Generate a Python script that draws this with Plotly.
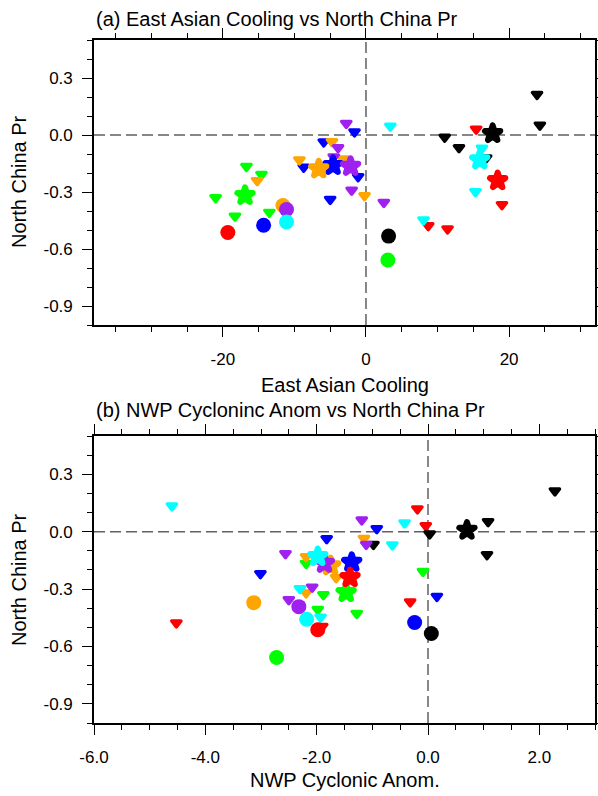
import plotly.graph_objects as go

# ---------------- data ----------------
groups = ["red", "orange", "green", "cyan", "blue", "purple", "black"]
group_colors = ["#FF0000", "#FFA500", "#00FF00", "#00FFFF", "#0000FF", "#A020F0", "#000000"]

# triangles (members): North China Pr, East Asian Cooling, NWP Cyclonic Anom.
tri_red_pr = [0.119, 0.031, -0.367, -0.477, -0.495]
tri_red_ea = [None, 15.4, 19.0, 8.7, 11.4]
tri_red_nwp = [-0.19, -0.04, -0.32, -4.52, -1.9]

tri_orange_pr = [-0.035, -0.131, -0.126, -0.240, -0.320]
tri_orange_ea = [-4.75, -9.3, -3.2, -15.2, -0.2]
tri_orange_nwp = [-1.15, -2.19, -2.05, -1.65, -2.19]

tri_green_pr = [-0.166, -0.208, -0.330, -0.427, -0.407]
tri_green_ea = [-16.7, -14.6, -21.0, -18.3, -13.5]
tri_green_nwp = [-2.19, -0.09, -1.88, -1.28, -1.98]

tri_cyan_pr = [0.135, 0.046, -0.069, -0.298, -0.447]
tri_cyan_ea = [None, 3.4, 16.2, 15.3, 8.05]
tri_cyan_nwp = [-4.60, -0.42, -0.64, -2.30, -1.93]

tri_blue_pr = [0.016, -0.037, -0.170, -0.220, -0.339]
tri_blue_ea = [-1.6, -5.9, -8.7, -1.1, -5.0]
tri_blue_nwp = [-0.92, -1.82, -1.40, -3.01, 0.16]

tri_purple_pr = [0.061, -0.067, -0.115, -0.290, -0.355]
tri_purple_ea = [-2.75, -3.9, -4.5, -2.0, 2.5]
tri_purple_nwp = [-1.19, -1.11, -2.56, -2.08, -2.50]

tri_black_pr = [0.213, 0.052, -0.012, -0.067, -0.121]
tri_black_ea = [23.9, 24.3, 11.0, 13.0, 16.8]
tri_black_nwp = [2.28, 1.08, 0.03, -0.98, 1.06]

# stars (one per group, order as groups)
star_pr = [-0.240, -0.178, -0.318, -0.130, -0.160, -0.165, 0.008]
star_ea = [18.4, -6.6, -16.9, 15.9, -4.6, -2.15, 17.7]
star_nwp = [-1.40, -1.75, -1.47, -1.98, -1.37, -1.86, 0.70]

# circles (one per group, order as groups)
circ_pr = [-0.513, -0.371, -0.658, -0.458, -0.475, -0.392, -0.532]
circ_ea = [-19.3, -11.6, 3.06, -11.1, -14.3, -11.1, 3.16]
circ_nwp = [-1.98, -3.13, -2.72, -2.18, -0.24, -2.32, 0.06]

# axes / ticks
ea_range = [-38, 32]
ea_ticks = [-20, 0, 20]
ea_ticktext = ["-20", "0", "20"]
nwp_range = [-6, 3]
nwp_ticks = [-6, -4, -2, 0, 2]
nwp_ticktext = ["-6.0", "-4.0", "-2.0", "0.0", "2.0"]
pr_range = [-1.0, 0.5]
pr_ticks = [-0.9, -0.6, -0.3, 0.0, 0.3]
pr_ticktext = ["-0.9", "-0.6", "-0.3", "0.0", "0.3"]

title_a = "(a) East Asian Cooling vs North China Pr"
title_b = "(b) NWP Cycloninc Anom vs North China Pr"
xlabel_a = "East Asian Cooling"
xlabel_b = "NWP Cyclonic Anom."
ylabel = "North China Pr"

tri_pr = {"red": tri_red_pr, "orange": tri_orange_pr, "green": tri_green_pr, "cyan": tri_cyan_pr,
          "blue": tri_blue_pr, "purple": tri_purple_pr, "black": tri_black_pr}
tri_ea = {"red": tri_red_ea, "orange": tri_orange_ea, "green": tri_green_ea, "cyan": tri_cyan_ea,
          "blue": tri_blue_ea, "purple": tri_purple_ea, "black": tri_black_ea}
tri_nwp = {"red": tri_red_nwp, "orange": tri_orange_nwp, "green": tri_green_nwp, "cyan": tri_cyan_nwp,
           "blue": tri_blue_nwp, "purple": tri_purple_nwp, "black": tri_black_nwp}

# drawing order of the groups (later ones on top)
draw_order = ["green", "blue", "red", "black", "orange", "purple", "cyan"]

# ---------------- figure ----------------
W, H = 598, 796
FONT = "Liberation Sans, Arial, Helvetica, sans-serif"
fig = go.Figure()
col_of = dict(zip(groups, group_colors))
idx_of = {g: i for i, g in enumerate(groups)}

panels = [("x", "y", tri_ea, star_ea, circ_ea), ("x2", "y2", tri_nwp, star_nwp, circ_nwp)]
for xa, ya, tx, sx, cx in panels:
    # triangles
    for g in draw_order:
        col = col_of[g]
        fig.add_trace(go.Scatter(x=tx[g], y=tri_pr[g], xaxis=xa, yaxis=ya, mode="markers",
                                 marker=dict(symbol="triangle-down", size=8, color=col,
                                             line=dict(color=col, width=3.4)),
                                 showlegend=False, hoverinfo="skip"))
    # circles
    for g in draw_order:
        i, col = idx_of[g], col_of[g]
        fig.add_trace(go.Scatter(x=[cx[i]], y=[circ_pr[i]], xaxis=xa, yaxis=ya, mode="markers",
                                 marker=dict(symbol="circle", size=15, color=col, line=dict(width=0)),
                                 showlegend=False, hoverinfo="skip"))
    # stars
    for g in draw_order:
        i, col = idx_of[g], col_of[g]
        fig.add_trace(go.Scatter(x=[sx[i]], y=[star_pr[i]], xaxis=xa, yaxis=ya, mode="markers",
                                 marker=dict(symbol="star", size=11.5, color=col,
                                             line=dict(color=col, width=6)),
                                 showlegend=False, hoverinfo="skip"))

xdom = [94 / W, 595 / W]
ydom_a = [1 - 325 / H, 1 - 40 / H]
ydom_b = [1 - 723 / H, 1 - 436 / H]

common = dict(showline=True, linecolor="black", linewidth=1.6, mirror="ticks",
              ticks="outside", ticklen=10, tickwidth=1.4, tickcolor="black",
              showgrid=False, zeroline=False, automargin=False,
              tickfont=dict(family=FONT, size=17, color="black"))

fig.update_layout(
    width=W, height=H, margin=dict(l=0, r=0, t=0, b=0, autoexpand=False),
    paper_bgcolor="white", plot_bgcolor="white",
    xaxis=dict(domain=xdom, anchor="y", range=ea_range, tickvals=ea_ticks, ticktext=ea_ticktext,
               minor=dict(dtick=5, tick0=0, ticks="outside", ticklen=5, tickwidth=1.2, tickcolor="black"),
               ticklabelstandoff=8, **common),
    yaxis=dict(domain=ydom_a, anchor="x", range=pr_range, tickvals=pr_ticks, ticktext=pr_ticktext,
               minor=dict(dtick=0.1, tick0=0, ticks="outside", ticklen=5, tickwidth=1.2, tickcolor="black"),
               ticklabelstandoff=6, **common),
    xaxis2=dict(domain=xdom, anchor="y2", range=nwp_range, tickvals=nwp_ticks, ticktext=nwp_ticktext,
                minor=dict(dtick=0.5, tick0=0, ticks="outside", ticklen=5, tickwidth=1.2, tickcolor="black"),
                ticklabelstandoff=8, **common),
    yaxis2=dict(domain=ydom_b, anchor="x2", range=pr_range, tickvals=pr_ticks, ticktext=pr_ticktext,
                minor=dict(dtick=0.1, tick0=0, ticks="outside", ticklen=5, tickwidth=1.2, tickcolor="black"),
                ticklabelstandoff=6, **common),
)

dash_line = dict(color="#606060", width=1.5, dash="11px,5px")
for xa, ya in [("x", "y"), ("x2", "y2")]:
    fig.add_shape(type="line", xref=f"{xa} domain", yref=ya, x0=0, x1=1, y0=0, y1=0,
                  line=dash_line, layer="below")
    fig.add_shape(type="line", xref=xa, yref=f"{ya} domain", x0=0, x1=0, y0=0, y1=1,
                  line=dash_line, layer="below")

ann_font = dict(family=FONT, size=20, color="black")
anns = [
    dict(text=title_a, x=94 / W, y=1 - 19 / H, xanchor="left", yanchor="middle"),
    dict(text=title_b, x=94 / W, y=1 - 410 / H, xanchor="left", yanchor="middle"),
    dict(text=xlabel_a, x=344.5 / W, y=1 - 385 / H, xanchor="center", yanchor="middle"),
    dict(text=xlabel_b, x=344.5 / W, y=1 - 780 / H, xanchor="center", yanchor="middle"),
    dict(text=ylabel, x=19 / W, y=1 - 182 / H, xanchor="center", yanchor="middle", textangle=-90),
    dict(text=ylabel, x=19 / W, y=1 - 580 / H, xanchor="center", yanchor="middle", textangle=-90),
]
for a in anns:
    fig.add_annotation(xref="paper", yref="paper", showarrow=False, font=ann_font, **a)

post = ("document.body.style.margin='0';document.body.style.overflow='hidden';"
        "var st=document.createElement('style');"
        "st.textContent='.scatterlayer path.point{stroke-linejoin:round !important;}';"
        "document.head.appendChild(st);")
fig.write_html("out.html", config={"displayModeBar": False}, post_script=post)
